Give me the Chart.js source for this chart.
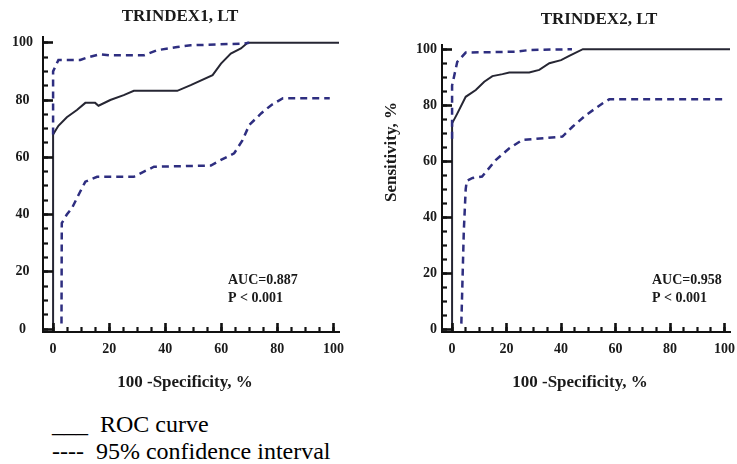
<!DOCTYPE html>
<html><head><meta charset="utf-8">
<script src="https://cdn.jsdelivr.net/npm/chart.js@4"></script>
<style>
html,body{margin:0;padding:0;background:#fff;overflow:hidden;width:737px;height:464px;position:relative}
.c{position:absolute;top:0}
#legend{position:absolute;left:52px;top:411px;font-family:"Liberation Serif","Times New Roman",serif;font-size:24px;line-height:27px;color:#000;white-space:pre}
</style></head><body>
<div class="c" style="left:0;width:370px;height:400px"><canvas id="c1" width="370" height="400"></canvas></div>
<div class="c" style="left:370px;width:380px;height:400px"><canvas id="c2" width="380" height="400"></canvas></div>
<div id="legend">___  ROC curve
----  95% confidence interval</div>
<script>
// ---- data ----
const tickLabels = [0, 20, 40, 60, 80, 100];
const minorTicks = [0, 5, 10, 15, 20, 25, 30, 35, 40, 45, 50, 55, 60, 65, 70, 75, 80, 85, 90, 95, 100];

const roc1X = [0, 0, 1.9, 4.9, 8.5, 11.5, 15, 16.2, 20.4, 25.2, 28.8, 44.3, 49.1, 56.9, 59.9, 63.4, 67, 69.4, 102];
const roc1Y = [0, 68, 71, 74, 76.5, 79, 79, 78, 80, 81.7, 83.2, 83.2, 85.2, 88.7, 92.7, 96.2, 98, 100, 100];
const up1X = [0, 0, 1.9, 9.7, 12, 16.8, 20.4, 32.4, 37.2, 44.3, 49.1, 68.2, 70];
const up1Y = [68, 90, 94, 94, 94.8, 96, 95.6, 95.6, 97.4, 98.5, 99.1, 99.7, 100];
const lo1X = [3, 3.1, 4.9, 6.7, 9.1, 11.5, 15.7, 28.8, 32.4, 36, 56.3, 59.9, 64.6, 67.6, 70, 74.2, 77.8, 82, 98.7];
const lo1Y = [2, 37, 40, 42.2, 46.9, 51.5, 53.2, 53.2, 55, 56.7, 57.1, 59.1, 61.4, 66, 71.3, 75.3, 78.2, 80.6, 80.6];

const roc2X = [0, 0, 1.9, 5, 8.7, 11.8, 14.8, 18.5, 21, 28.3, 32, 35.7, 40, 43, 48, 102];
const roc2Y = [0, 73.5, 77, 83, 85.4, 88.4, 90.4, 91.1, 91.7, 91.7, 92.6, 95, 96.1, 97.6, 100, 100];
const up2X = [0, 0, 1.9, 5, 23.4, 28.3, 44];
const up2Y = [68, 87, 95.5, 98.8, 99.1, 99.7, 100];
const lo2X = [3.4, 4.3, 5, 5.4, 7.5, 11, 16, 21, 25.8, 40.5, 44.2, 49.2, 55.3, 57.7, 100];
const lo2Y = [2, 35, 50, 53, 54, 54.5, 60.4, 64.6, 67.6, 68.8, 72.3, 76.5, 80.7, 82.1, 82.1];

const titles = ["TRINDEX1, LT", "TRINDEX2, LT"];
const xTitle = "100 -Specificity, %";
const yTitle = "Sensitivity, %";
const aucTexts = ["AUC=0.887", "AUC=0.958"];
const pText = "P < 0.001";

// ---- rendering ----
const SERIF = '"Liberation Serif","Times New Roman",serif';
const INK = '#1a1a1a';
const AXIS = '#111111';
const ROC_COLOR = '#262633';
const CI_COLOR = '#2e2e80';

function pts(xs, ys) { return xs.map((x, i) => ({x: x, y: ys[i]})); }

const texts = {
  id: 'texts',
  afterDraw(chart, args, o) {
    const ctx = chart.ctx;
    ctx.save();
    ctx.fillStyle = INK;
    ctx.textBaseline = 'middle';
    ctx.font = 'bold 17px ' + SERIF;
    ctx.textAlign = 'center';
    ctx.fillText(o.title, o.titleX, o.titleY);
    ctx.fillText(xTitle, o.xTitleX, 383);
    if (o.yTitle) {
      ctx.save();
      ctx.translate(o.yTitleX, o.yTitleY);
      ctx.rotate(-Math.PI / 2);
      ctx.fillText(yTitle, 0, 0);
      ctx.restore();
    }
    ctx.font = 'bold 14px ' + SERIF;
    ctx.textAlign = 'left';
    ctx.fillText(o.auc, o.aucX, 280);
    ctx.fillText(pText, o.aucX, 298);
    ctx.restore();
  }
};

const tickFont = {family: SERIF, size: 14, weight: 'bold'};
const labelOf = v => (tickLabels.indexOf(v) >= 0 ? String(v) : '');

function makeChart(id, cfg) {
  const datasets = [
    {data: pts(cfg.loX, cfg.loY), borderColor: CI_COLOR, borderWidth: 2.5, borderDash: [7, 5], pointRadius: 0, fill: false, tension: 0},
    {data: pts(cfg.upX, cfg.upY), borderColor: CI_COLOR, borderWidth: 2.5, borderDash: [7, 5], pointRadius: 0, fill: false, tension: 0},
    {data: pts(cfg.rocX, cfg.rocY), borderColor: ROC_COLOR, borderWidth: 2, pointRadius: 0, fill: false, tension: 0}
  ];
  return new Chart(document.getElementById(id), {
    type: 'line',
    data: {datasets: datasets},
    options: {
      responsive: false, animation: false,
      layout: {padding: {left: 0, right: cfg.padRight, top: cfg.padTop, bottom: 0}},
      plugins: {legend: {display: false}, tooltip: {enabled: false}, texts: cfg.texts},
      scales: {
        x: {
          type: 'linear', min: cfg.xMin, max: cfg.xMax, weight: 1,
          grid: {display: true, z: 1, drawOnChartArea: false, drawTicks: true, tickLength: -5, tickColor: AXIS, tickWidth: 2.2},
          border: {display: true, z: 2, color: AXIS, width: 2},
          afterBuildTicks: s => { s.ticks = minorTicks.map(v => ({value: v})); },
          afterFit: s => { s.height = 68; },
          ticks: {autoSkip: false, maxRotation: 0, padding: 14, color: INK, font: tickFont, callback: labelOf}
        },
        xMajor: {
          type: 'linear', position: 'bottom', min: cfg.xMin, max: cfg.xMax, weight: -1,
          grid: {display: true, z: 1, drawOnChartArea: false, drawTicks: true, tickLength: -9, tickColor: AXIS, tickWidth: 2.6},
          border: {display: false},
          afterBuildTicks: s => { s.ticks = tickLabels.map(v => ({value: v})); },
          afterFit: s => { s.height = 0; },
          ticks: {display: false}
        },
        y: {
          type: 'linear', min: cfg.yMin, max: cfg.yMax, weight: 1,
          grid: {display: true, z: 1, drawOnChartArea: false, drawTicks: true, tickLength: -5, tickColor: AXIS, tickWidth: 2.2},
          border: {display: true, z: 2, color: AXIS, width: 2},
          afterBuildTicks: s => { s.ticks = minorTicks.map(v => ({value: v})); },
          afterFit: s => { s.width = cfg.yWidth; },
          ticks: {autoSkip: false, crossAlign: cfg.cross, padding: cfg.yPad, color: INK, font: tickFont, callback: labelOf}
        },
        yMajor: {
          type: 'linear', position: 'left', min: cfg.yMin, max: cfg.yMax, weight: -1,
          grid: {display: true, z: 1, drawOnChartArea: false, drawTicks: true, tickLength: -10, tickColor: AXIS, tickWidth: 2.6},
          border: {display: false},
          afterBuildTicks: s => { s.ticks = tickLabels.map(v => ({value: v})); },
          afterFit: s => { s.width = 0; },
          ticks: {display: false}
        }
      }
    },
    plugins: [texts]
  });
}

makeChart('c1', {
  rocX: roc1X, rocY: roc1Y, upX: up1X, upY: up1Y, loX: lo1X, loY: lo1Y,
  xMin: -3.6, xMax: 102, yMin: -1, yMax: 102,
  padRight: 31, padTop: 37, yWidth: 43, cross: 'center', yPad: 15,
  texts: {title: titles[0], titleX: 180, titleY: 17, xTitleX: 185, auc: aucTexts[0], aucX: 228}
});
makeChart('c2', {
  rocX: roc2X, rocY: roc2Y, upX: up2X, upY: up2Y, loX: lo2X, loY: lo2Y,
  xMin: -3.7, xMax: 102, yMin: -1, yMax: 101.5,
  padRight: 20, padTop: 45, yWidth: 72, cross: 'near', yPad: 10,
  texts: {title: titles[1], titleX: 229, titleY: 20, xTitleX: 210, yTitle: true, yTitleX: 22, yTitleY: 152, auc: aucTexts[1], aucX: 282}
});
</script>
</body></html>
